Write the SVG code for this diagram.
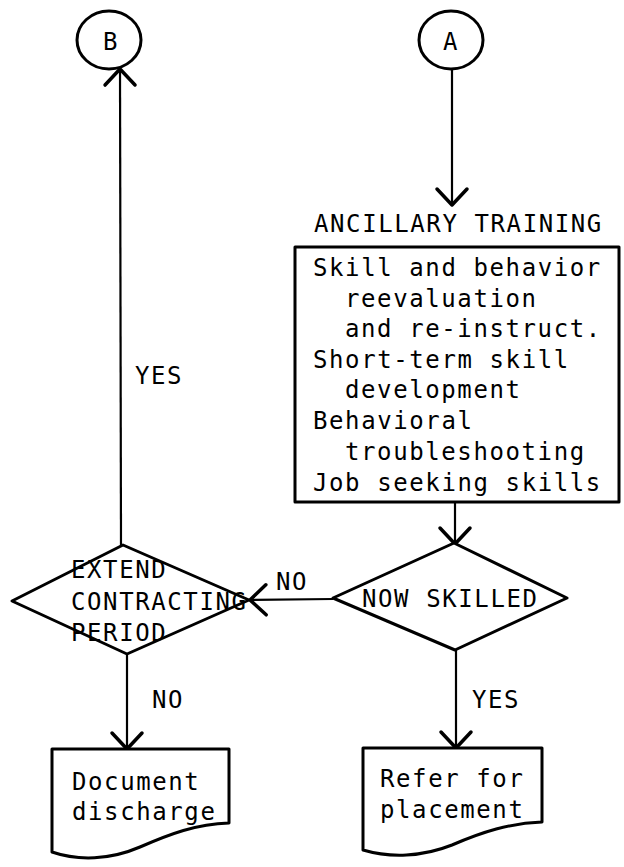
<svg xmlns="http://www.w3.org/2000/svg" width="624" height="867" viewBox="0 0 624 867">
  <style>
    .shape { fill: #ffffff; stroke: #000000; stroke-width: 3; stroke-linejoin: round; }
    .line { fill: none; stroke: #000000; stroke-width: 2.2; }
    .t { font-family: "DejaVu Sans Mono", "Liberation Mono", monospace; font-size: 24px; letter-spacing: 1.6px; fill: #000000; }
  </style>
  <defs>
    <marker id="arrow" markerUnits="userSpaceOnUse" markerWidth="24" markerHeight="36" viewBox="0 0 24 36" refX="21" refY="18" orient="auto">
      <path d="M5,3 L21,18 L5,33" fill="none" stroke="#000000" stroke-width="3.5" stroke-linecap="round" stroke-linejoin="round"/>
    </marker>
  </defs>
  <rect width="624" height="867" fill="#ffffff"/>

  <!-- connectors -->
  <g id="connectors">
    <line class="line" x1="452" y1="69" x2="452" y2="205" marker-end="url(#arrow)"/>
    <line class="line" x1="455" y1="502" x2="455" y2="544" marker-end="url(#arrow)"/>
    <line class="line" x1="333" y1="599" x2="250" y2="600" marker-end="url(#arrow)"/>
    <line class="line" x1="121" y1="546" x2="120" y2="69" marker-end="url(#arrow)"/>
    <line class="line" x1="127" y1="654" x2="127" y2="749" marker-end="url(#arrow)"/>
    <line class="line" x1="456" y1="650" x2="456" y2="748" marker-end="url(#arrow)"/>
    <text class="t" x="135" y="384">YES</text>
    <text class="t" x="276" y="590">NO</text>
    <text class="t" x="152" y="708">NO</text>
    <text class="t" x="472" y="708">YES</text>
  </g>

  <!-- connector B -->
  <g id="node-b">
    <ellipse class="shape" cx="109" cy="40" rx="32" ry="29"/>
    <text class="t" x="103" y="50">B</text>
  </g>

  <!-- connector A -->
  <g id="node-a">
    <ellipse class="shape" cx="451" cy="40" rx="32" ry="29"/>
    <text class="t" x="443" y="50">A</text>
  </g>

  <!-- ancillary training process -->
  <g id="node-training">
    <text class="t" x="314" y="232">ANCILLARY TRAINING</text>
    <rect class="shape" x="295" y="247" width="324" height="255"/>
    <text class="t" x="313" y="276">Skill and behavior</text>
    <text class="t" x="345" y="307">reevaluation</text>
    <text class="t" x="345" y="337">and re-instruct.</text>
    <text class="t" x="313" y="368">Short-term skill</text>
    <text class="t" x="345" y="398">development</text>
    <text class="t" x="313" y="429">Behavioral</text>
    <text class="t" x="345" y="460">troubleshooting</text>
    <text class="t" x="313" y="491">Job seeking skills</text>
  </g>

  <!-- decision: now skilled -->
  <g id="node-now-skilled">
    <polygon class="shape" points="333,598 454,543 567,598 455,650"/>
    <text class="t" x="362" y="607">NOW SKILLED</text>
  </g>

  <!-- decision: extend contracting period -->
  <g id="node-extend">
    <polygon class="shape" points="12,601 123,545 249,600 127,654"/>
    <text class="t" x="71" y="578">EXTEND</text>
    <text class="t" x="71" y="610">CONTRACTING</text>
    <text class="t" x="71" y="641">PERIOD</text>
  </g>

  <!-- document: discharge -->
  <g id="node-discharge">
    <path class="shape" d="M52,749 L229,749 L229,823 C196,824 170,834 140,847 C110,860 78,861 52,852 Z"/>
    <text class="t" x="72" y="790">Document</text>
    <text class="t" x="72" y="820">discharge</text>
  </g>

  <!-- document: placement referral -->
  <g id="node-placement">
    <path class="shape" d="M363,748 L542,748 L542,822 C510,823 482,832 452,845 C422,857 390,858 363,850 Z"/>
    <text class="t" x="380" y="787">Refer for</text>
    <text class="t" x="380" y="818">placement</text>
  </g>
</svg>
